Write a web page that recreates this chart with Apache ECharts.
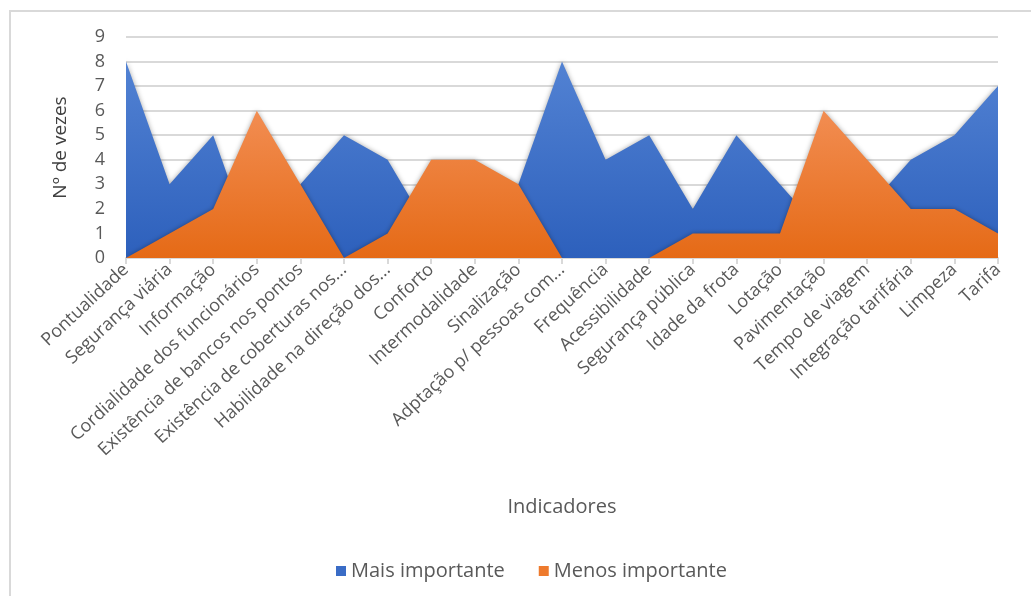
<!DOCTYPE html>
<html>
<head>
<meta charset="utf-8">
<script src="https://cdn.jsdelivr.net/npm/echarts@6/dist/echarts.min.js"></script>
<style>
html,body{margin:0;padding:0;background:#fff;}
#chart{width:1031px;height:596px;}
</style>
</head>
<body>
<div id="chart"></div>
<script>
const categories = ["Pontualidade","Segurança viária","Informação","Cordialidade dos funcionários","Existência de bancos nos pontos","Existência de coberturas nos...","Habilidade na direção dos...","Conforto","Intermodalidade","Sinalização","Adptação p/ pessoas com...","Frequência","Acessibilidade","Segurança pública","Idade da frota","Lotação","Pavimentação","Tempo de viagem","Integração tarifária","Limpeza","Tarifa"];
const maisImportante = [8,3,5,0,3,5,4,1,2,3,8,4,5,2,5,3,1,2,4,5,7];
const menosImportante = [0,1,2,6,3,0,1,4,4,3,0,0,0,1,1,1,6,4,2,2,1];
const seriesNames = ["Mais importante","Menos importante"];
const yTicks = [0,1,2,3,4,5,6,7,8,9];

const chart = echarts.init(document.getElementById('chart'));
const font = '"Open Sans", sans-serif';
function grad(top, bottom){
  return new echarts.graphic.LinearGradient(0,0,0,1,[{offset:0,color:top},{offset:1,color:bottom}]);
}
chart.setOption({
  animation:false,
  backgroundColor:'#fff',
  graphic:[{type:'rect',shape:{x:10,y:11,width:1040,height:600},style:{fill:'none',stroke:'#d9d9d9',lineWidth:2},silent:true}],
  grid:{left:126,right:33,top:37,bottom:338},
  legend:{
    data:[{name:seriesNames[0],itemStyle:{color:'#3a6cc6'}},{name:seriesNames[1],itemStyle:{color:'#ee7a2d'}}],
    left:331, top:556, icon:'rect', itemWidth:10, itemHeight:10, itemGap:34,
    textStyle:{fontFamily:font,fontSize:20,color:'#595959'}
  },
  xAxis:{
    type:'category', data:categories, boundaryGap:false,
    name:'Indicadores', nameLocation:'middle', nameGap:239,
    nameTextStyle:{fontFamily:font,fontSize:20,color:'#595959'},
    axisLine:{lineStyle:{color:'#d9d9d9',width:2}},
    axisTick:{show:true,alignWithLabel:true,length:6,lineStyle:{color:'#d9d9d9',width:2}},
    axisLabel:{rotate:43,interval:0,fontFamily:font,fontSize:18,color:'#595959',margin:9}
  },
  yAxis:{
    type:'value', min:yTicks[0], max:yTicks[yTicks.length-1], interval:1,
    name:'Nº de vezes', nameLocation:'middle', nameGap:56, nameRotate:90,
    nameTextStyle:{fontFamily:font,fontSize:19,color:'#404040'},
    axisLine:{show:false}, axisTick:{show:false},
    axisLabel:{fontFamily:font,fontSize:18,color:'#595959',margin:21},
    splitLine:{lineStyle:{color:'#d9d9d9',width:2}}
  },
  series:[
    {name:seriesNames[0],type:'line',data:maisImportante,symbol:'none',
     lineStyle:{width:0},itemStyle:{color:'#3a6cc6'},
     areaStyle:{color:grad('#5282d3','#2d60bc'),opacity:1,shadowBlur:5,shadowColor:'rgba(0,0,0,0.35)'}},
    {name:seriesNames[1],type:'line',data:menosImportante,symbol:'none',
     lineStyle:{width:0},itemStyle:{color:'#ee7a2d'},
     areaStyle:{color:grad('#f28d52','#e56a16'),opacity:1,shadowBlur:5,shadowColor:'rgba(0,0,0,0.35)'}}
  ]
});
</script>
</body>
</html>
